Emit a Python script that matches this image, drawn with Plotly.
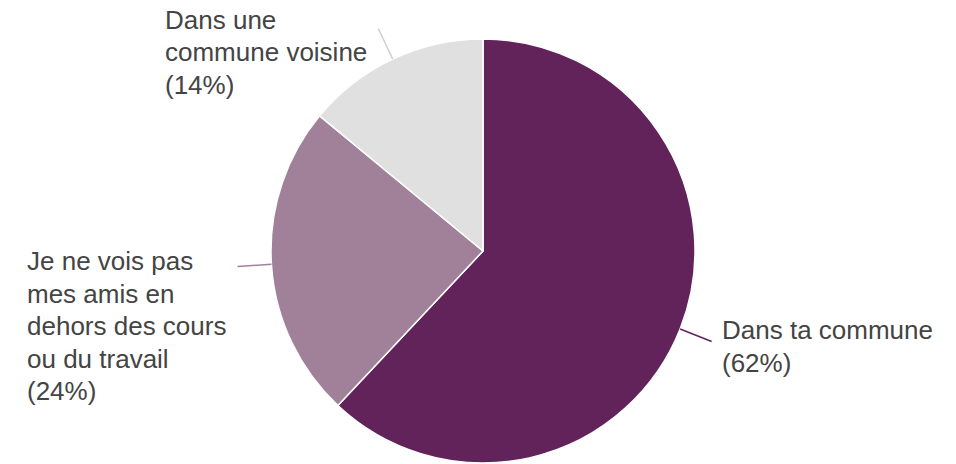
import math
import plotly.graph_objects as go

labels = ["Dans ta commune", "Je ne vois pas mes amis en dehors des cours ou du travail", "Dans une commune voisine"]
label_lines = [["Dans ta commune"], ["Je ne vois pas", "mes amis en", "dehors des cours", "ou du travail"], ["Dans une", "commune voisine"]]
values = [62, 24, 14]
colors = ["#62235a", "#a08199", "#e0e0e0"]

W, H = 956, 464
CX, CY, R = 483, 251, 212
# label anchor (left x in px, vertical centre of block in px)
label_pos = [(720, 346.5), (25, 326), (163, 52)]
LINE_STEP = 32.5
leader_colors = ["#62235a", "#a08199", "#d0d0d0"]
FONT = dict(family="Arial, Liberation Sans, sans-serif", size=26, color="#444444")

fig = go.Figure(go.Pie(
    labels=labels, values=values, sort=False, direction="clockwise", rotation=0,
    marker=dict(colors=colors, line=dict(color="white", width=1.5)),
    textinfo="none", hoverinfo="label+percent", showlegend=False,
    domain=dict(x=[(CX - R) / W, (CX + R) / W], y=[(H - CY - R) / H, (H - CY + R) / H]),
))

total = sum(values)
cum = 0
shapes, annotations = [], []
for i, v in enumerate(values):
    mid = (cum + v / 2) / total * 2 * math.pi
    cum += v
    sx, sy = math.sin(mid), -math.cos(mid)
    x0, y0 = CX + sx * R, CY + sy * R
    x1, y1 = CX + sx * R * 1.16, CY + sy * R * 1.16
    shapes.append(dict(type="line", xref="paper", yref="paper",
                       x0=x0 / W, y0=1 - y0 / H, x1=x1 / W, y1=1 - y1 / H,
                       line=dict(color=leader_colors[i], width=1.5)))
    pct = round(v / total * 100)
    lines = label_lines[i] + [f"({pct}%)"]
    lx, ly = label_pos[i]
    n = len(lines)
    for j, t in enumerate(lines):
        yy = ly + (j - (n - 1) / 2) * LINE_STEP
        annotations.append(dict(text=t, x=lx / W, y=1 - yy / H, xref="paper", yref="paper",
                                xanchor="left", yanchor="middle", align="left", showarrow=False,
                                font=FONT))

fig.update_layout(width=W, height=H, margin=dict(l=0, r=0, t=0, b=0),
                  paper_bgcolor="white", plot_bgcolor="white",
                  shapes=shapes, annotations=annotations)
fig.write_html("out.html", config={"displayModeBar": False},
               post_script="document.body.style.margin='0';")
